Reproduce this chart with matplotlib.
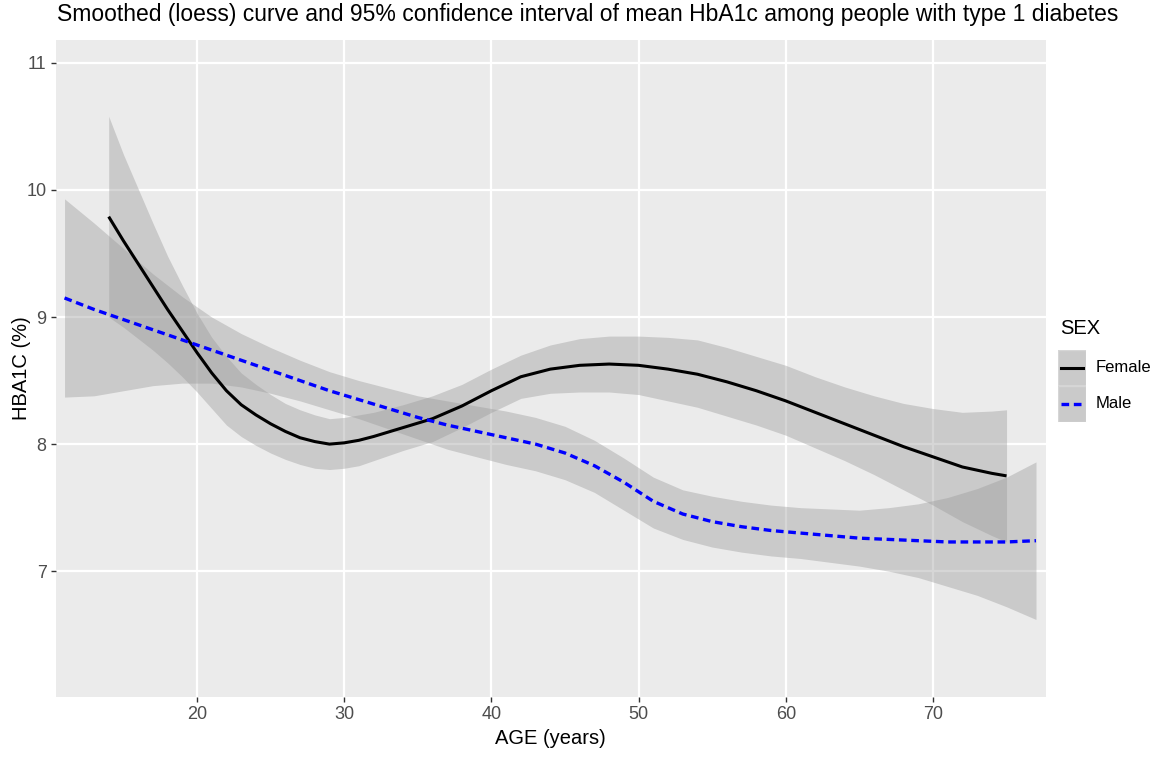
import matplotlib
matplotlib.use("Agg")
import matplotlib.pyplot as plt
from matplotlib.patches import Rectangle
from matplotlib.lines import Line2D

plt.rcParams['font.family'] = ['Liberation Sans Narrow', 'Liberation Sans', 'DejaVu Sans']

# loess fit and 95% band, female
female_age = [14, 15, 16, 17, 18, 19, 20, 21, 22, 23, 24, 25, 26, 27, 28, 29, 30, 31,
              32, 34, 36, 38, 40, 42, 44, 46, 48, 50, 52, 54, 56, 58, 60, 62, 64, 66,
              68, 70, 72, 74, 75]
female_fit = [9.79, 9.60, 9.42, 9.24, 9.06, 8.89, 8.72, 8.56, 8.42, 8.31, 8.23, 8.16,
              8.10, 8.05, 8.02, 8.00, 8.01, 8.03, 8.06, 8.13, 8.20, 8.30, 8.42, 8.53,
              8.59, 8.62, 8.63, 8.62, 8.59, 8.55, 8.49, 8.42, 8.34, 8.25, 8.16, 8.07,
              7.98, 7.90, 7.82, 7.77, 7.75]
female_lo = [9.00, 8.92, 8.83, 8.74, 8.64, 8.53, 8.41, 8.28, 8.15, 8.06, 7.99, 7.93,
             7.88, 7.84, 7.81, 7.80, 7.81, 7.83, 7.87, 7.95, 8.02, 8.13, 8.25, 8.36,
             8.40, 8.41, 8.41, 8.39, 8.34, 8.29, 8.22, 8.15, 8.07, 7.97, 7.87, 7.76,
             7.64, 7.52, 7.39, 7.28, 7.23]
female_hi = [10.58, 10.28, 10.01, 9.74, 9.48, 9.25, 9.03, 8.84, 8.69, 8.56, 8.47, 8.39,
             8.32, 8.27, 8.23, 8.20, 8.21, 8.23, 8.25, 8.31, 8.38, 8.47, 8.59, 8.70,
             8.78, 8.83, 8.85, 8.85, 8.84, 8.82, 8.76, 8.69, 8.62, 8.53, 8.45, 8.38,
             8.32, 8.28, 8.25, 8.26, 8.27]

# loess fit and 95% band, male
male_age = [11, 13, 15, 17, 19, 21, 23, 25, 27, 29, 31, 33, 35, 37, 39, 41, 43, 45,
            47, 49, 51, 53, 55, 57, 59, 61, 63, 65, 67, 69, 71, 73, 75, 77]
male_fit = [9.15, 9.06, 8.98, 8.90, 8.82, 8.74, 8.66, 8.58, 8.50, 8.42, 8.35, 8.28,
            8.21, 8.15, 8.10, 8.05, 8.00, 7.93, 7.83, 7.70, 7.55, 7.45, 7.39, 7.35,
            7.32, 7.30, 7.28, 7.26, 7.25, 7.24, 7.23, 7.23, 7.23, 7.24]
male_lo = [8.37, 8.38, 8.42, 8.46, 8.48, 8.48, 8.45, 8.40, 8.34, 8.27, 8.20, 8.12,
           8.04, 7.96, 7.90, 7.84, 7.79, 7.72, 7.62, 7.48, 7.34, 7.25, 7.19, 7.15,
           7.12, 7.10, 7.07, 7.04, 7.00, 6.95, 6.88, 6.81, 6.72, 6.62]
male_hi = [9.93, 9.74, 9.54, 9.34, 9.16, 9.00, 8.87, 8.76, 8.66, 8.57, 8.50, 8.44,
           8.38, 8.34, 8.30, 8.26, 8.21, 8.14, 8.03, 7.89, 7.74, 7.64, 7.59, 7.55,
           7.52, 7.50, 7.49, 7.48, 7.50, 7.53, 7.58, 7.65, 7.74, 7.86]

x_ticks = [20, 30, 40, 50, 60, 70]
y_ticks = [7, 8, 9, 10, 11]
sex_labels = ["Female", "Male"]

W, H = 1158, 759
fig = plt.figure(figsize=(W / 100, H / 100), dpi=100)

# panel placed in pixel terms
left, right, top, bottom = 55.7, 1045.7, 40, 697
ax = fig.add_axes([left / W, 1 - bottom / H, (right - left) / W, (bottom - top) / H])
ax.set_facecolor("#EBEBEB")
for s in ax.spines.values():
    s.set_visible(False)

ax.fill_between(female_age, female_lo, female_hi, color="#999999", alpha=0.4, lw=0)
ax.fill_between(male_age, male_lo, male_hi, color="#999999", alpha=0.4, lw=0)
ax.plot(female_age, female_fit, color="black", lw=2.2, solid_capstyle="butt")
ax.plot(male_age, male_fit, color="blue", lw=2.4, linestyle=(0, (2.3, 1.4)))

ax.set_xlim(10.4, 77.66)
ax.set_ylim(6.01, 11.18)
ax.set_xticks(x_ticks)
ax.set_yticks(y_ticks)
ax.grid(True, color="white", lw=1.6)
ax.set_axisbelow(True)
ax.tick_params(length=3.5, width=1, color="#333333", labelcolor="#4D4D4D",
               labelsize=13, pad=3)

ax.set_xlabel("AGE (years)", fontsize=14.5, labelpad=4)
ax.set_ylabel("HBA1C (%)", fontsize=14.5, labelpad=-3)

fig.text(57 / W, 1 - 14 / H,
         "Smoothed (loess) curve and 95% confidence interval of mean HbA1c among people with type 1 diabetes",
         fontsize=16.5, ha="left", va="center")

# legend drawn by hand
fig.text(1060 / W, 1 - 328 / H, "SEX", fontsize=14.5, ha="left", va="center")
key_x0, key_w, key_h = 1058, 28, 36
key_y0 = 350
for i, lab in enumerate(sex_labels):
    y0 = key_y0 + i * key_h
    fig.add_artist(Rectangle((key_x0 / W, 1 - (y0 + key_h) / H), key_w / W, key_h / H,
                             transform=fig.transFigure, facecolor="#EBEBEB", edgecolor="white", lw=1))
    fig.add_artist(Rectangle((key_x0 / W, 1 - (y0 + key_h) / H), key_w / W, key_h / H,
                             transform=fig.transFigure, facecolor="#999999", alpha=0.4, lw=0))
    yc = 1 - (y0 + key_h / 2) / H
    if i == 0:
        ln = Line2D([(key_x0 + 3) / W, (key_x0 + key_w - 3) / W], [yc, yc],
                    transform=fig.transFigure, color="black", lw=2.2)
    else:
        ln = Line2D([(key_x0 + 3) / W, (key_x0 + key_w - 3) / W], [yc, yc],
                    transform=fig.transFigure, color="blue", lw=2.4, linestyle=(0, (2.3, 1.4)))
    fig.add_artist(ln)
    fig.text((key_x0 + key_w + 10) / W, yc, lab, fontsize=12, ha="left", va="center")

fig.savefig("out.png", dpi=100)
